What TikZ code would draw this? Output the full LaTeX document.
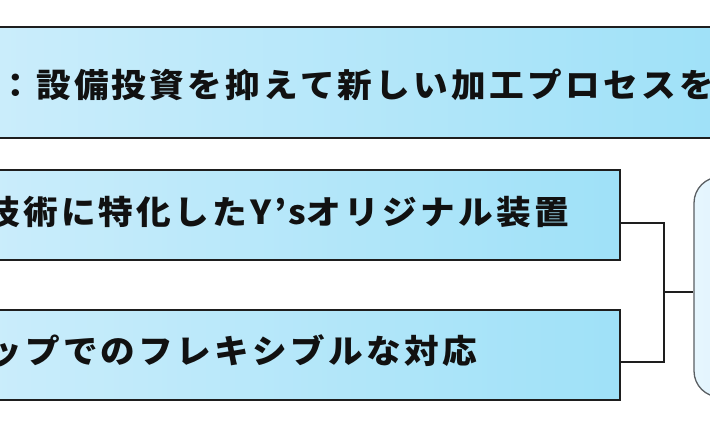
\documentclass[tikz,border=0pt]{standalone}
\usepackage{fontspec}
\usepackage{graphicx}
\newfontfamily\jp[LetterSpace=9.5]{Noto Sans CJK JP}
\definecolor{boxL}{HTML}{CBEDFB}
\definecolor{boxR}{HTML}{9FE1F8}
\definecolor{rboxL}{HTML}{E6F6FE}
\definecolor{rboxR}{HTML}{D6F0FC}
\definecolor{edge}{HTML}{1E1E1E}
\definecolor{redge}{HTML}{5A5F63}
\definecolor{txt}{HTML}{111111}
\tikzset{
  bluebox/.style={draw=edge, line width=1.3pt, rectangle, inner sep=0pt,
    left color=boxL, right color=boxR},
  roundbox/.style={draw=redge, line width=1.3pt, rectangle, rounded corners=26pt, inner sep=0pt,
    left color=rboxL, right color=rboxR},
  label/.style={anchor=west, inner sep=0pt, text=txt, font=\jp\bfseries\fontsize{33}{38}\selectfont},
  wire/.style={draw=edge, line width=1.1pt}
}
\newcommand{\wide}[1]{\scalebox{1.05}[1]{#1}}
\begin{document}
\begin{tikzpicture}[x=1pt,y=-1pt]
\useasboundingbox (0,0) rectangle (710,434);
\clip (0,0) rectangle (710,434);
\fill[white] (0,0) rectangle (710,434);
% boxes
\node[bluebox, minimum width=740pt, minimum height=111pt] (top) at (355,82.5) {};
\node[bluebox, minimum width=640pt, minimum height=90pt] (b2) at (300,215) {};
\node[bluebox, minimum width=640pt, minimum height=90pt] (b3) at (300,355) {};
\node[roundbox, minimum width=100pt, minimum height=220pt] (rbox) at (744,287) {};
% texts
\node[label] (t1) at (-2,84.5) {\wide{：設備投資を抑えて新しい加工プロセスを}};
\node[label] (t2) at (-15,211.5) {\wide{技術に特化したY’s}\wide{オリジナル装置}};
\node[label] (t3) at (-13,351) {\wide{ップでのフレキシブルな対応}};
% connectors
\coordinate (j) at (664,292);
\draw[wire] ([yshift=-8pt]b2.east) -| (j) |- ([yshift=-7pt]b3.east);
\draw[wire] (j) -- (j -| rbox.west);
\end{tikzpicture}
\end{document}
